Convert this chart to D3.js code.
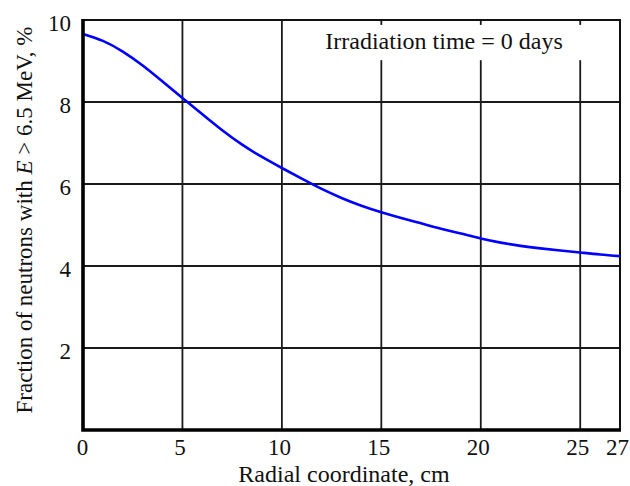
<!DOCTYPE html>
<html>
<head>
<meta charset="utf-8">
<script src="https://cdn.jsdelivr.net/npm/d3@7"></script>
<style>
  body { margin: 0; background: #fff; }
  svg text { font-family: "Liberation Serif", "Times New Roman", serif; fill: #111; }
</style>
</head>
<body>
<div id="chart"></div>
<script>
// radial coordinate (cm) and fraction of fast neutrons (%)
const radius = [0, 1, 2, 3, 4, 5, 6, 7, 8, 9, 10, 11, 12, 13, 14, 15, 16, 17, 18, 19, 20, 21, 22, 23, 24, 25, 26, 27]
const fraction = [9.66, 9.49, 9.23, 8.89, 8.50, 8.10, 7.70, 7.31, 6.96, 6.66, 6.39, 6.13, 5.88, 5.66, 5.47, 5.31,
    5.17, 5.04, 4.91, 4.79, 4.67, 4.57, 4.49, 4.43, 4.38, 4.33, 4.28, 4.24]
const xTicks = [0, 5, 10, 15, 20, 25, 27]
const yTicks = [2, 4, 6, 8, 10]
const xGrid = [5, 10, 15, 20, 25]
const yGrid = [2, 4, 6, 8]
const legendText = "Irradiation time = 0 days"

const W = 630, H = 486
const margin = { top: 20, right: 10, bottom: 56, left: 83 }
const serif = '"Liberation Serif", "Times New Roman", serif'

const svg = d3.select('#chart')
    .append('svg')
    .attr('width', W)
    .attr('height', H)

const x = d3.scaleLinear().domain([0, 27]).range([margin.left, W - margin.right])
const y = d3.scaleLinear().domain([0, 10]).range([H - margin.bottom, margin.top])

// grid
svg.append('g')
    .selectAll('line')
    .data(xGrid)
    .join('line')
    .attr('x1', d => x(d)).attr('x2', d => x(d))
    .attr('y1', y(10)).attr('y2', y(0))
    .attr('stroke', '#1a1a1a')
    .attr('stroke-width', 1.8)
svg.append('g')
    .selectAll('line')
    .data(yGrid)
    .join('line')
    .attr('x1', x(0)).attr('x2', x(27))
    .attr('y1', d => y(d)).attr('y2', d => y(d))
    .attr('stroke', '#1a1a1a')
    .attr('stroke-width', 1.8)

// top + right frame
svg.append('path')
    .attr('d', `M${x(0)},${y(10)}H${x(27)}V${y(0)}`)
    .attr('fill', 'none')
    .attr('stroke', '#111')
    .attr('stroke-width', 2)

// legend box covers the grid
svg.append('rect')
    .attr('x', x(10.1))
    .attr('y', y(9.88))
    .attr('width', x(26.3) - x(10.1))
    .attr('height', y(9.02) - y(9.88))
    .attr('fill', '#fff')
svg.append('text')
    .attr('x', 444)
    .attr('y', 49)
    .attr('text-anchor', 'middle')
    .style('font-size', '24px')
    .text(legendText)

// curve
svg.append('path')
    .datum(radius.map((r, i) => [r, fraction[i]]))
    .attr('fill', 'none')
    .attr('stroke', '#0000ff')
    .attr('stroke-width', 2.6)
    .attr('d', d3.line()
        .x(d => x(d[0]))
        .y(d => y(d[1]))
        .curve(d3.curveNatural))

// left + bottom axis lines (thick)
svg.append('path')
    .attr('d', `M${x(0)},${y(10) - 1}V${y(0)}H${x(27) + 1}`)
    .attr('fill', 'none')
    .attr('stroke', '#000')
    .attr('stroke-width', 3.6)

// tick labels
const xAxis = svg.append('g')
    .attr('transform', `translate(0,${y(0)})`)
    .call(d3.axisBottom(x).tickValues(xTicks).tickSize(0).tickPadding(9).tickFormat(d3.format('d')))
    .attr('font-family', serif)
    .attr('font-size', 23)
xAxis.select('.domain').remove()
xAxis.selectAll('text')
    .attr('dx', d => d == 0 ? -1 : -3)
    .attr('fill', '#111')

const yAxis = svg.append('g')
    .attr('transform', `translate(${x(0)},0)`)
    .call(d3.axisLeft(y).tickValues(yTicks).tickSize(0).tickPadding(12).tickFormat(d3.format('d')))
    .attr('font-family', serif)
    .attr('font-size', 23)
yAxis.select('.domain').remove()
yAxis.selectAll('text')
    .attr('dy', '0.45em')
    .attr('fill', '#111')

// axis titles
svg.append('text')
    .attr('x', 344)
    .attr('y', 482)
    .attr('text-anchor', 'middle')
    .style('font-size', '24px')
    .text('Radial coordinate, cm')

const yTitle = svg.append('text')
    .attr('transform', 'translate(32,220) rotate(-90)')
    .attr('text-anchor', 'middle')
    .style('font-size', '23px')
yTitle.append('tspan').text('Fraction of neutrons with ')
yTitle.append('tspan').style('font-style', 'italic').text('E')
yTitle.append('tspan').text(' > 6.5 MeV, %')
</script>
</body>
</html>
